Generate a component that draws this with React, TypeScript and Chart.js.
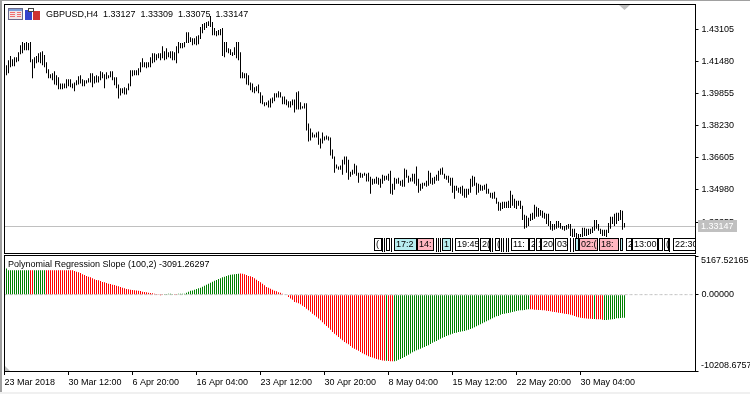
import React, { useEffect, useRef } from "react";
import { Chart, registerables } from "chart.js";

Chart.register(...registerables);

const FONT = "9px 'Liberation Sans'";
const FONT_FAMILY = "'Liberation Sans'";

const symbolTitle = "GBPUSD,H4  1.33127  1.33309  1.33075  1.33147";
const indicatorTitle = "Polynomial Regression Slope (100,2) -3091.26297";
const lastPrice = 1.33147;
const priceTicks = [1.43105, 1.4148, 1.39855, 1.3823, 1.36605, 1.3498, 1.33355];
const slopeTicks = [5167.52165, 0, -10208.6757];
const timeTicks = ["23 Mar 2018", "30 Mar 12:00", "6 Apr 20:00", "16 Apr 04:00", "23 Apr 12:00", "30 Apr 20:00", "8 May 04:00", "15 May 12:00", "22 May 20:00", "30 May 04:00"];

const priceHighs = [
  1.4129,1.4154,1.4175,1.4159,1.4169,1.4169,1.4195,1.4230,1.4246,1.4241,
  1.4246,1.4241,1.4246,1.4159,1.4169,1.4175,1.4190,1.4195,1.4200,1.4180,
  1.4144,1.4108,1.4083,1.4088,1.4098,1.4078,1.4068,1.4037,1.4037,1.4037,
  1.4058,1.4058,1.4058,1.4037,1.4042,1.4053,1.4073,1.4078,1.4058,1.4053,
  1.4053,1.4063,1.4088,1.4088,1.4073,1.4078,1.4073,1.4098,1.4093,1.4083,
  1.4093,1.4078,1.4098,1.4098,1.4068,1.4068,1.4032,1.4012,1.4012,1.4017,
  1.4012,1.4037,1.4103,1.4103,1.4103,1.4103,1.4114,1.4144,1.4164,1.4144,
  1.4144,1.4144,1.4169,1.4190,1.4190,1.4185,1.4190,1.4190,1.4225,1.4200,
  1.4215,1.4195,1.4200,1.4200,1.4195,1.4225,1.4246,1.4241,1.4241,1.4246,
  1.4296,1.4296,1.4271,1.4266,1.4266,1.4276,1.4281,1.4322,1.4337,1.4342,
  1.4347,1.4352,1.4378,1.4347,1.4317,1.4302,1.4307,1.4312,1.4317,1.4246,
  1.4246,1.4215,1.4210,1.4195,1.4220,1.4246,1.4246,1.4195,1.4093,1.4088,
  1.4088,1.4078,1.4042,1.4037,1.4017,1.4022,1.4032,1.3992,1.3976,1.3941,
  1.3941,1.3951,1.3961,1.3966,1.3987,1.3987,1.3997,1.3992,1.3971,1.3971,
  1.3956,1.3946,1.3946,1.3956,1.3956,1.3992,1.3997,1.3941,1.3921,1.3936,
  1.3936,1.3834,1.3809,1.3788,1.3778,1.3788,1.3794,1.3758,1.3788,1.3768,
  1.3773,1.3768,1.3763,1.3702,1.3667,1.3626,1.3616,1.3621,1.3651,1.3667,
  1.3667,1.3651,1.3590,1.3600,1.3631,1.3621,1.3585,1.3585,1.3580,1.3585,
  1.3580,1.3585,1.3565,1.3555,1.3555,1.3565,1.3560,1.3555,1.3575,1.3570,
  1.3570,1.3580,1.3595,1.3529,1.3560,1.3555,1.3560,1.3545,1.3550,1.3606,
  1.3600,1.3570,1.3560,1.3580,1.3580,1.3616,1.3555,1.3529,1.3534,1.3534,
  1.3545,1.3595,1.3585,1.3560,1.3565,1.3575,1.3595,1.3606,1.3611,1.3580,
  1.3570,1.3570,1.3560,1.3560,1.3519,1.3519,1.3509,1.3514,1.3519,1.3504,
  1.3504,1.3504,1.3555,1.3570,1.3565,1.3534,1.3529,1.3524,1.3519,1.3524,
  1.3529,1.3504,1.3484,1.3484,1.3489,1.3458,1.3438,1.3433,1.3438,1.3438,
  1.3438,1.3443,1.3494,1.3474,1.3453,1.3443,1.3443,1.3443,1.3418,1.3372,
  1.3367,1.3357,1.3377,1.3382,1.3423,1.3413,1.3407,1.3397,1.3392,1.3382,
  1.3377,1.3377,1.3341,1.3326,1.3326,1.3341,1.3341,1.3331,1.3316,1.3316,
  1.3321,1.3326,1.3326,1.3301,1.3301,1.3280,1.3275,1.3275,1.3306,1.3306,
  1.3301,1.3301,1.3301,1.3311,1.3346,1.3346,1.3326,1.3301,1.3296,1.3296,
  1.3296,1.3331,1.3362,1.3362,1.3377,1.3382,1.3382,1.3397,1.3392,1.33309,
];

const priceLows = [
  1.4078,1.4088,1.4119,1.4124,1.4124,1.4144,1.4149,1.4185,1.4190,1.4205,
  1.4205,1.4205,1.4144,1.4063,1.4114,1.4139,1.4144,1.4139,1.4129,1.4119,
  1.4088,1.4063,1.4063,1.4053,1.4032,1.4027,1.4007,1.4007,1.4007,1.4012,
  1.4012,1.4022,1.4017,1.4012,1.3997,1.4027,1.4032,1.4037,1.4022,1.4022,
  1.4037,1.4042,1.4042,1.4017,1.4037,1.4042,1.4042,1.4053,1.4063,1.4012,
  1.4058,1.4063,1.4068,1.4053,1.4027,1.4012,1.3961,1.3976,1.3987,1.3981,
  1.3981,1.4002,1.4022,1.4073,1.4078,1.4078,1.4078,1.4093,1.4119,1.4119,
  1.4114,1.4119,1.4119,1.4139,1.4144,1.4154,1.4164,1.4154,1.4164,1.4154,
  1.4159,1.4169,1.4164,1.4154,1.4154,1.4139,1.4190,1.4215,1.4215,1.4220,
  1.4241,1.4241,1.4246,1.4230,1.4235,1.4230,1.4235,1.4261,1.4291,1.4307,
  1.4317,1.4327,1.4322,1.4281,1.4281,1.4276,1.4281,1.4281,1.4175,1.4169,
  1.4195,1.4190,1.4180,1.4175,1.4180,1.4164,1.4154,1.4063,1.4063,1.4063,
  1.4032,1.4027,1.4002,1.3992,1.3987,1.3997,1.3987,1.3936,1.3931,1.3921,
  1.3926,1.3915,1.3915,1.3936,1.3946,1.3966,1.3966,1.3966,1.3931,1.3931,
  1.3926,1.3915,1.3915,1.3926,1.3890,1.3905,1.3905,1.3905,1.3910,1.3910,
  1.3799,1.3743,1.3748,1.3763,1.3763,1.3763,1.3727,1.3707,1.3733,1.3748,
  1.3753,1.3748,1.3672,1.3656,1.3585,1.3606,1.3600,1.3600,1.3575,1.3626,
  1.3585,1.3550,1.3565,1.3575,1.3580,1.3570,1.3534,1.3560,1.3560,1.3570,
  1.3540,1.3540,1.3479,1.3524,1.3529,1.3529,1.3524,1.3509,1.3529,1.3545,
  1.3550,1.3545,1.3479,1.3474,1.3499,1.3529,1.3529,1.3519,1.3514,1.3514,
  1.3560,1.3534,1.3540,1.3540,1.3529,1.3519,1.3484,1.3494,1.3504,1.3519,
  1.3514,1.3519,1.3529,1.3524,1.3529,1.3545,1.3545,1.3575,1.3575,1.3555,
  1.3550,1.3534,1.3519,1.3484,1.3453,1.3494,1.3484,1.3479,1.3468,1.3458,
  1.3458,1.3474,1.3484,1.3514,1.3519,1.3474,1.3484,1.3494,1.3494,1.3499,
  1.3479,1.3479,1.3458,1.3453,1.3453,1.3428,1.3392,1.3392,1.3402,1.3407,
  1.3407,1.3407,1.3407,1.3418,1.3407,1.3402,1.3418,1.3402,1.3346,1.3301,
  1.3306,1.3316,1.3341,1.3346,1.3352,1.3362,1.3362,1.3367,1.3357,1.3352,
  1.3326,1.3316,1.3296,1.3291,1.3296,1.3301,1.3306,1.3301,1.3296,1.3291,
  1.3296,1.3301,1.3265,1.3260,1.3260,1.3250,1.3250,1.3260,1.3260,1.3265,
  1.3265,1.3270,1.3275,1.3280,1.3291,1.3301,1.3291,1.3275,1.3265,1.3265,
  1.3260,1.3280,1.3301,1.3326,1.3316,1.3326,1.3341,1.3346,1.3296,1.33075,
];

const slopeValues = [
  3480,3250,3250,3250,3250,3250,3250,3250,3250,3250,
  3250,3250,3250,3250,3250,3250,3250,3250,3250,3250,
  3250,3250,3250,3250,3250,3250,3250,3250,3250,3250,
  3250,3250,3250,3250,3170,3075,2985,2900,2715,2630,
  2500,2405,2315,2180,2045,1965,1910,1830,1700,1645,
  1565,1470,1430,1335,1295,1205,1110,1030,935,840,
  760,710,670,630,575,570,535,495,400,360,
  310,265,225,175,135,95,5,-5,5,90,
  100,110,120,100,90,10,110,125,130,135,
  267,400,535,560,670,760,840,935,1070,1205,
  1335,1470,1605,1740,1870,1965,2100,2180,2315,2405,
  2500,2580,2675,2680,2715,2770,2810,2815,2810,2715,
  2630,2500,2450,2365,2180,2005,1830,1645,1470,1245,
  1030,935,800,670,535,440,310,265,135,40,
  -90,-310,-500,-670,-975,-1060,-1150,-1295,-1480,-1645,
  -1900,-2100,-2300,-2540,-2740,-2940,-3190,-3435,-3700,-3970,
  -4190,-4410,-4700,-4990,-5220,-5440,-5660,-5880,-6110,-6325,
  -6500,-6645,-6860,-7085,-7220,-7355,-7510,-7660,-7820,-7980,
  -8115,-8250,-8335,-8420,-8510,-8600,-8670,-8730,-8790,-8825,
  -8850,-8865,-8890,-8915,-8900,-8825,-8710,-8600,-8470,-8330,
  -8180,-8020,-7860,-7715,-7570,-7450,-7320,-7220,-7100,-6990,
  -6880,-6780,-6600,-6420,-6300,-6190,-6030,-5880,-5760,-5655,
  -5540,-5440,-5320,-5215,-5130,-5080,-5000,-4945,-4900,-4855,
  -4770,-4680,-4600,-4505,-4370,-4240,-4105,-3970,-3840,-3705,
  -3570,-3435,-3300,-3170,-3030,-2900,-2850,-2675,-2600,-2540,
  -2490,-2445,-2380,-2315,-2250,-2180,-2135,-2100,-2070,-2045,
  -2000,-1965,-1965,-1965,-2005,-2005,-2045,-2045,-2070,-2100,
  -2140,-2180,-2230,-2270,-2310,-2365,-2410,-2445,-2490,-2540,
  -2590,-2630,-2690,-2770,-2850,-2940,-3010,-3075,-3120,-3170,
  -3185,-3210,-3230,-3250,-3270,-3300,-3300,-3300,-3340,-3380,
  -3390,-3370,-3330,-3280,-3240,-3170,-3150,-3115,-3100,-3091.26,
];

const slopeRunLengths = [12, 2, 6, 59, 5, 2, 31, 73, 1, 3, 68, 32, 1, 4, 11];
const slopeRunRising = [true, false, true, false, true, false, true, false, true, false, true, false, true, false, true];

const SLOTS = 346;
const TICK_EVERY = 32;
const slotLabels = Array.from({ length: SLOTS }, (_, i) => (i % TICK_EVERY === 0 ? timeTicks[i / TICK_EVERY] ?? "" : ""));
const slopeColors: string[] = [null as any];
slopeRunLengths.forEach((n, r) => {
  for (let k = 0; k < n; k++) slopeColors.push(slopeRunRising[r] ? "#008000" : "#ff0000");
});

const tradeLabels: [number, number, string, string][] = [
  [374, 7, "(", "#fff"], [386, 3, "", "#fff"], [394, 22, "17:2", "#b8eef0"], [417, 16, "14:", "#ffb6c1"],
  [442, 8, "1", "#b8eef0"], [455, 23, "19:45", "#fff"], [480, 9, "2(", "#fff"], [495, 4, "(", "#fff"],
  [511, 17, "11:", "#fff"], [529, 5, "2", "#fff"], [536, 4, "1", "#fff"], [541, 12, "20", "#fff"],
  [555, 12, "03", "#fff"], [575, 3, "", "#b8eef0"], [579, 18, "02:(", "#ffb6c1"], [599, 19, "18:", "#ffb6c1"],
  [620, 2, "", "#b8eef0"], [626, 5, "2", "#fff"], [632, 25, "13:00", "#fff"], [658, 4, "", "#fff"],
  [664, 4, "(", "#fff"], [673, 22, "22:30", "#fff"],
];
const tradeLines = [382, 384, 391, 436, 438, 440, 452, 490, 492, 501, 503, 506, 508, 570, 573, 669];

const fixedYWidth = (scale: any) => {
  scale.width = 54.5;
  scale.paddingTop = 0;
  scale.paddingBottom = 0;
};

const topPlugin = {
  id: "topPane",
  beforeDatasetsDraw(chart: any) {
    const { ctx } = chart;
    const y = Math.floor(chart.scales.y.getPixelForValue(lastPrice)) + 0.5;
    ctx.save();
    ctx.strokeStyle = "#c0c0c0";
    ctx.lineWidth = 1;
    ctx.beginPath();
    ctx.moveTo(5, y);
    ctx.lineTo(695, y);
    ctx.stroke();
    ctx.restore();
  },
  afterDraw(chart: any) {
    const { ctx } = chart;
    ctx.save();
    // trade labels along the bottom of the price pane
    ctx.strokeStyle = "#000";
    ctx.lineWidth = 1;
    ctx.textBaseline = "middle";
    ctx.font = FONT;
    tradeLines.forEach((x) => {
      ctx.beginPath();
      ctx.moveTo(x + 0.5, 238);
      ctx.lineTo(x + 0.5, 252);
      ctx.stroke();
    });
    tradeLabels.forEach(([x, w, text, fill]) => {
      ctx.fillStyle = fill;
      ctx.fillRect(x, 238, w, 12);
      ctx.strokeRect(x + 0.5, 238.5, w, 12);
      ctx.save();
      ctx.beginPath();
      ctx.rect(x + 1, 239, w - 1, 11);
      ctx.clip();
      ctx.fillStyle = "#000";
      ctx.textAlign = "left";
      ctx.fillText(text, x + 2, 244.5);
      ctx.restore();
    });
    // frame
    ctx.strokeStyle = "#000";
    ctx.strokeRect(4.5, 4.5, 691, 249);
    // chart-shift triangle
    ctx.fillStyle = "#c0c0c0";
    ctx.beginPath();
    ctx.moveTo(619, 5);
    ctx.lineTo(630, 5);
    ctx.lineTo(624.5, 10);
    ctx.closePath();
    ctx.fill();
    // title
    ctx.fillStyle = "#000";
    ctx.font = FONT;
    ctx.textAlign = "left";
    ctx.fillText(symbolTitle, 46, 14.5);
    // icons
    ctx.fillStyle = "#f0e8e8";
    ctx.fillRect(8, 8, 15, 12);
    ctx.strokeStyle = "#6a6a8a";
    ctx.strokeRect(8.5, 8.5, 14, 11);
    ctx.fillStyle = "#7f9fd8";
    ctx.fillRect(9, 9, 13, 2);
    ctx.fillStyle = "#ef6f6f";
    ctx.fillRect(10, 12, 5, 1);
    ctx.fillRect(10, 14, 5, 1);
    ctx.fillRect(10, 16, 5, 1);
    ctx.fillRect(17, 12, 4, 1);
    ctx.fillRect(17, 14, 4, 1);
    ctx.fillRect(17, 16, 4, 1);
    ctx.fillStyle = "#3344cc";
    ctx.fillRect(25, 10, 7, 10);
    ctx.fillStyle = "#cc3333";
    ctx.fillRect(33, 11, 7, 9);
    ctx.fillStyle = "#fff";
    ctx.fillRect(28, 8, 5, 4);
    ctx.strokeStyle = "#444";
    ctx.strokeRect(28.5, 8.5, 5, 3);
    // last price tag
    ctx.fillStyle = "#c0c0c0";
    ctx.fillRect(698, 220, 39, 12);
    ctx.fillStyle = "#fff";
    ctx.font = FONT;
    ctx.fillText(lastPrice.toFixed(5), 701, 226.5);
    ctx.restore();
  },
};

const bottomPlugin = {
  id: "bottomPane",
  afterDraw(chart: any) {
    const { ctx } = chart;
    ctx.save();
    ctx.strokeStyle = "#000";
    ctx.lineWidth = 1;
    ctx.strokeRect(4.5, 1.5, 691, 116);
    ctx.fillStyle = "#c0c0c0";
    ctx.beginPath();
    ctx.moveTo(5, 112);
    ctx.lineTo(5, 117);
    ctx.lineTo(10, 117);
    ctx.closePath();
    ctx.fill();
    ctx.fillStyle = "#000";
    ctx.font = FONT;
    ctx.textBaseline = "middle";
    ctx.textAlign = "left";
    ctx.fillText(indicatorTitle, 8, 10.5);
    ctx.fillText(slopeTicks[0].toFixed(5), 701, 7);
    ctx.fillText(slopeTicks[2].toFixed(5), 701, 112);
    ctx.restore();
  },
};

export default function App() {
  const topRef = useRef<HTMLCanvasElement>(null);
  const bottomRef = useRef<HTMLCanvasElement>(null);

  useEffect(() => {
    const top = new Chart(topRef.current!, {
      type: "bar",
      data: {
        labels: slotLabels,
        datasets: [
          {
            data: [null, ...priceHighs.map((h, i) => [priceLows[i], h])] as any,
            backgroundColor: "#000",
            barThickness: 1,
            borderWidth: 0,
            inflateAmount: 0,
          },
        ],
      },
      options: {
        animation: false,
        responsive: false,
        layout: { padding: { left: 3.5, top: 5, right: 0, bottom: 0 } },
        plugins: { legend: { display: false }, tooltip: { enabled: false } },
        scales: {
          x: { type: "category", display: false, offset: true },
          y: {
            position: "right",
            min: 1.31738,
            max: 1.44336,
            afterBuildTicks: (s: any) => {
              s.ticks = priceTicks.map((value) => ({ value }));
            },
            afterFit: fixedYWidth,
            grid: { drawOnChartArea: false, drawTicks: true, tickLength: 3, tickColor: "#000" },
            border: { display: false },
            ticks: {
              color: "#000",
              padding: 3,
              autoSkip: false,
              font: { family: FONT_FAMILY, size: 9 },
              callback: (v: any) => Number(v).toFixed(5),
            },
          },
        },
      },
      plugins: [topPlugin],
    } as any);

    const bottom = new Chart(bottomRef.current!, {
      type: "bar",
      data: {
        labels: slotLabels,
        datasets: [
          {
            type: "line",
            data: slotLabels.map(() => 0),
            borderColor: "#c0c0c0",
            borderWidth: 1,
            borderDash: [3, 2],
            pointRadius: 0,
            order: 2,
          },
          {
            data: [null, ...slopeValues] as any,
            backgroundColor: slopeColors,
            barThickness: 1,
            borderWidth: 0,
            inflateAmount: 0,
            order: 1,
          },
        ],
      },
      options: {
        animation: false,
        responsive: false,
        layout: { autoPadding: false, padding: { left: 3.5, top: 2, right: 0, bottom: 0 } },
        plugins: { legend: { display: false }, tooltip: { enabled: false } },
        scales: {
          x: {
            type: "category",
            offset: true,
            afterBuildTicks: (s: any) => {
              s.ticks = s.ticks.filter((t: any) => slotLabels[t.value] !== "");
            },
            afterFit: (s: any) => {
              s.height = 22;
              s.paddingLeft = 0;
              s.paddingRight = 0;
            },
            grid: { drawOnChartArea: false, drawTicks: true, tickLength: 4, tickColor: "#000", offset: false },
            border: { display: false },
            ticks: {
              color: "#000",
              padding: 2,
              align: "start",
              autoSkip: false,
              maxRotation: 0,
              minRotation: 0,
              font: { family: FONT_FAMILY, size: 9 },
            },
          },
          y: {
            position: "right",
            min: -10208.6757,
            max: 5167.52165,
            afterBuildTicks: (s: any) => {
              s.ticks = slopeTicks.map((value) => ({ value }));
            },
            afterFit: fixedYWidth,
            grid: { drawOnChartArea: false, drawTicks: true, tickLength: 3, tickColor: "#000" },
            border: { display: false },
            ticks: {
              color: "#000",
              padding: 3,
              autoSkip: false,
              font: { family: FONT_FAMILY, size: 9 },
              callback: (v: any) => (v === 0 ? "0.00000" : ""),
            },
          },
        },
      },
      plugins: [bottomPlugin],
    } as any);

    return () => {
      top.destroy();
      bottom.destroy();
    };
  }, []);

  return (
    <div style={{ position: "absolute", left: 0, top: 0, width: 750, height: 394, background: "#fff", overflow: "hidden" }}>
      <div style={{ position: "absolute", left: 0, top: 0, width: 750, height: 1, background: "#a0a0a0" }} />
      <div style={{ position: "absolute", left: 0, top: 0, width: 2, height: 394, background: "#a0a0a0" }} />
      <div style={{ position: "absolute", left: 0, top: 392, width: 750, height: 2, background: "#f0f0f0" }} />
      <canvas ref={topRef} width={750} height={254} style={{ position: "absolute", left: 0, top: 0 }} />
      <canvas ref={bottomRef} width={750} height={139} style={{ position: "absolute", left: 0, top: 254 }} />
    </div>
  );
}
